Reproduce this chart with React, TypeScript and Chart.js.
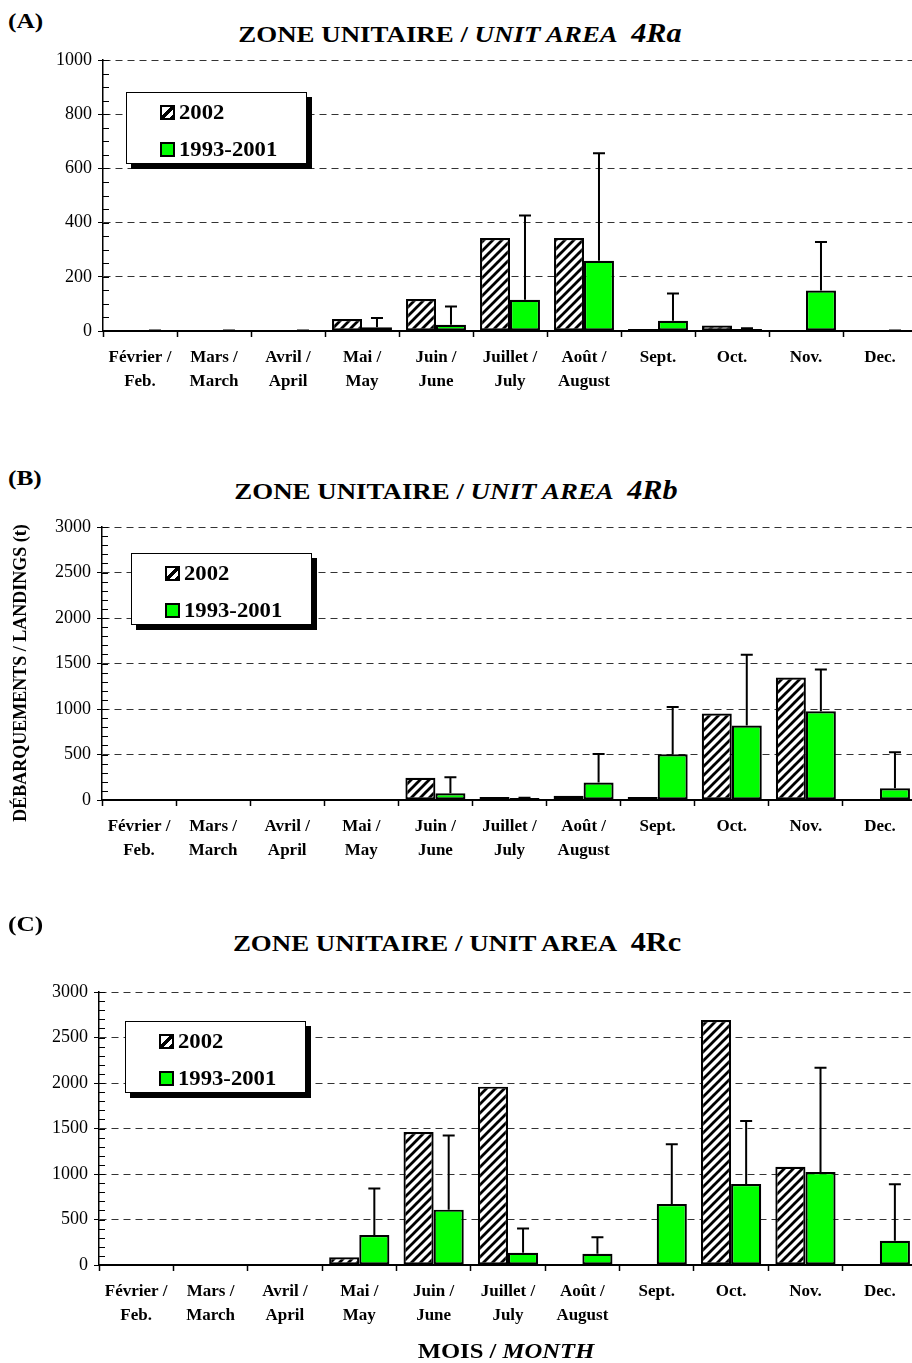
import React, { useEffect, useRef } from "react";
import { Chart, registerables } from "chart.js";
Chart.register(...registerables);

const MONTHS: string[][] = [
  ["Février /", "Feb."],
  ["Mars /", "March"],
  ["Avril /", "April"],
  ["Mai /", "May"],
  ["Juin /", "June"],
  ["Juillet /", "July"],
  ["Août /", "August"],
  ["Sept."],
  ["Oct."],
  ["Nov."],
  ["Dec."],
];
const SERIES_2002 = "2002";
const SERIES_MEAN = "1993-2001";

// Panel A – 4Ra
const A_2002 = [null, null, null, 44, 118, 343, 343, 2, 20, null, null];
const A_MEAN = [null, null, null, 14, 23, 115, 259, 38, 6, 149, null];
const A_SD = [2, 2, 2, 34, 67, 311, 397, 100, 4, 179, 2];

// Panel B – 4Rb
const B_2002 = [null, null, null, null, 245, 33, 48, 33, 950, 1345, null];
const B_MEAN = [null, null, null, null, 73, 10, 191, 502, 818, 975, 128];
const B_SD = [null, null, null, null, 177, 15, 315, 521, 777, 458, 397];

// Panel C – 4Rc
const C_2002 = [null, null, null, 84, 1462, 1960, null, null, 2693, 1080, null];
const C_MEAN = [null, null, null, 330, 608, 135, 124, 670, 890, 1022, 267];
const C_SD = [null, null, null, 512, 816, 267, 180, 656, 693, 1146, 619];

const SERIF = '"Liberation Serif", "Times New Roman", serif';
const GREEN = "#00ff00";
const CANVAS_W = 917;
const CAT_PCT = 0.81;
const X_AXIS_H = 75;

function makeHatch(ctx: CanvasRenderingContext2D) {
  const s = 9;
  const c = document.createElement("canvas");
  c.width = s;
  c.height = s;
  const g = c.getContext("2d")!;
  g.fillStyle = "#fff";
  g.fillRect(0, 0, s, s);
  g.strokeStyle = "#000";
  g.lineWidth = 2.8;
  g.beginPath();
  g.moveTo(-1, s + 1);
  g.lineTo(s + 1, -1);
  g.moveTo(-2, 2);
  g.lineTo(2, -2);
  g.moveTo(s - 2, s + 2);
  g.lineTo(s + 2, s - 2);
  g.stroke();
  return ctx.createPattern(c, "repeat")!;
}

type PanelProps = {
  d2002: (number | null)[];
  mean: (number | null)[];
  sd: (number | null)[];
  yMax: number;
  major: number;
  minor: number;
  plotTop: number;
  plotBottom: number;
  plotLeft: number;
};

function Panel(p: PanelProps) {
  const ref = useRef<HTMLCanvasElement>(null);
  const top = p.plotTop - 20;
  const height = p.plotBottom - top + X_AXIS_H;
  useEffect(() => {
    const canvas = ref.current!;
    const ctx = canvas.getContext("2d")!;
    const hatch = makeHatch(ctx);

    const minorTicks = {
      id: "minorTicks",
      afterDraw(chart: any) {
        const y = chart.scales.y;
        const c = chart.ctx;
        c.save();
        c.strokeStyle = "#000";
        c.lineWidth = 1;
        for (let v = 0; v <= p.yMax; v += p.minor) {
          const py = Math.round(y.getPixelForValue(v)) + 0.5;
          c.beginPath();
          c.moveTo(y.right, py);
          c.lineTo(y.right + 6, py);
          c.stroke();
        }
        c.restore();
      },
    };

    const errorBars = {
      id: "errorBars",
      afterDatasetsDraw(chart: any) {
        const x = chart.scales.x;
        const y = chart.scales.y;
        const c = chart.ctx;
        const catW = x.width / MONTHS.length;
        c.save();
        c.strokeStyle = "#000";
        c.lineWidth = 2;
        p.sd.forEach((s, i) => {
          if (s == null) return;
          const m = p.mean[i] ?? 0;
          const gx = x.getPixelForValue(i) + (catW * CAT_PCT) / 4;
          const y0 = y.getPixelForValue(m);
          const y1 = y.getPixelForValue(m + s);
          c.beginPath();
          c.moveTo(gx, y0);
          c.lineTo(gx, y1);
          c.moveTo(gx - 6, y1);
          c.lineTo(gx + 6, y1);
          c.stroke();
        });
        c.restore();
      },
    };

    const chart = new Chart(canvas, {
      type: "bar",
      data: {
        labels: MONTHS,
        datasets: [
          {
            label: SERIES_2002,
            data: p.d2002,
            backgroundColor: hatch,
            borderColor: "#000",
            borderWidth: 2.2,
            borderSkipped: false,
            categoryPercentage: CAT_PCT,
            barPercentage: 1,
            minBarLength: 2,
          },
          {
            label: SERIES_MEAN,
            data: p.mean,
            backgroundColor: GREEN,
            borderColor: "#000",
            borderWidth: 2.2,
            borderSkipped: false,
            categoryPercentage: CAT_PCT,
            barPercentage: 1,
            minBarLength: 2,
          },
        ],
      } as any,
      options: {
        animation: false,
        responsive: false,
        maintainAspectRatio: false,
        layout: { padding: { top: 20, left: 0, right: 0, bottom: 0 } },
        plugins: {
          legend: { display: false },
          tooltip: { enabled: false },
          title: { display: false },
        },
        scales: {
          x: {
            grid: {
              offset: true,
              drawOnChartArea: false,
              drawTicks: true,
              tickLength: 6,
              tickColor: "#000",
              tickWidth: 1.5,
            },
            border: { color: "#000", width: 2 },
            ticks: {
              color: "#000",
              autoSkip: false,
              maxRotation: 0,
              padding: 9,
              font: { family: SERIF, size: 17, weight: "bold", lineHeight: "24px" },
            },
            afterFit: (s: any) => {
              s.height = X_AXIS_H;
            },
          },
          y: {
            min: 0,
            max: p.yMax,
            grid: {
              color: (c: any) => (c.tick && c.tick.value === 0 ? "rgba(0,0,0,0)" : "#333"),
              lineWidth: 1,
              tickColor: "#000",
              tickLength: 5,
              tickWidth: 1,
            },
            border: { color: "#000", width: 1.5, dash: [7, 5] },
            ticks: {
              stepSize: p.major,
              color: "#000",
              padding: 6,
              font: { family: SERIF, size: 18 },
              callback: (v: any) => String(v),
            },
            afterFit: (s: any) => {
              s.width = p.plotLeft;
            },
          },
        },
      } as any,
      plugins: [minorTicks, errorBars],
    });
    return () => chart.destroy();
  }, []);
  return (
    <canvas
      ref={ref}
      width={CANVAS_W}
      height={height}
      style={{ position: "absolute", left: 0, top, width: CANVAS_W, height }}
    />
  );
}

function Legend({ left, top }: { left: number; top: number }) {
  const row = (icon: React.ReactNode, text: string, cy: number) => (
    <div
      style={{
        position: "absolute",
        left: 33,
        top: cy - 12,
        height: 24,
        display: "flex",
        alignItems: "center",
        whiteSpace: "nowrap",
      }}
    >
      {icon}
      <span style={{ marginLeft: 4, fontFamily: SERIF, fontWeight: "bold", fontSize: 21, transform: "scaleX(1.08)", transformOrigin: "left center", display: "inline-block" }}>{text}</span>
    </div>
  );
  const hatchIcon = (
    <span
      style={{
        display: "inline-block",
        width: 11,
        height: 11,
        border: "2px solid #000",
        background:
          "linear-gradient(135deg, #fff 0 40%, #000 40% 62%, #fff 62% 82%, #000 82%)",
      }}
    />
  );
  const greenIcon = (
    <span
      style={{
        display: "inline-block",
        width: 11,
        height: 11,
        border: "2px solid #000",
        background: GREEN,
      }}
    />
  );
  return (
    <div
      style={{
        position: "absolute",
        left,
        top,
        width: 181,
        height: 72,
        boxSizing: "border-box",
        border: "1px solid #000",
        background: "#fff",
        boxShadow: "5px 5px 0 #000",
      }}
    >
      {row(hatchIcon, SERIES_2002, 19.5)}
      {row(greenIcon, SERIES_MEAN, 56)}
    </div>
  );
}

function Label({ x, y, children, size }: { x: number; y: number; children: React.ReactNode; size: number }) {
  return (
    <div
      style={{
        position: "absolute",
        left: x,
        top: y,
        transform: "translate(-50%, -50%) scaleX(1.12)",
        whiteSpace: "nowrap",
        fontFamily: SERIF,
        fontWeight: "bold",
        fontSize: size,
        lineHeight: 1,
        color: "#000",
      }}
    >
      {children}
    </div>
  );
}

function PanelTag({ y, text }: { y: number; text: string }) {
  return (
    <div
      style={{
        position: "absolute",
        left: 8,
        top: y,
        transform: "translateY(-50%) scaleX(1.15)",
        transformOrigin: "left center",
        fontFamily: SERIF,
        fontWeight: "bold",
        fontSize: 22,
        lineHeight: 1,
      }}
    >
      {text}
    </div>
  );
}

export default function App() {
  return (
    <div
      style={{
        position: "absolute",
        left: 0,
        top: 0,
        width: 912,
        height: 1363,
        overflow: "hidden",
        background: "#fff",
      }}
    >
      <PanelTag y={21} text="(A)" />
      <Label x={460} y={33} size={24}>
        ZONE UNITAIRE / <i>UNIT AREA</i>&nbsp; <i style={{ fontSize: 27 }}>4Ra</i>
      </Label>
      <Panel d2002={A_2002} mean={A_MEAN} sd={A_SD} yMax={1000} major={200} minor={50} plotTop={60} plotBottom={331} plotLeft={103} />
      <Legend left={126} top={92} />

      <PanelTag y={478} text="(B)" />
      <Label x={456} y={490} size={24}>
        ZONE UNITAIRE / <i>UNIT AREA</i>&nbsp; <i style={{ fontSize: 27 }}>4Rb</i>
      </Label>
      <Panel d2002={B_2002} mean={B_MEAN} sd={B_SD} yMax={3000} major={500} minor={100} plotTop={527} plotBottom={800} plotLeft={102} />
      <Legend left={131} top={553} />
      <div
        style={{
          position: "absolute",
          left: 20,
          top: 673,
          transform: "translate(-50%, -50%) rotate(-90deg)",
          whiteSpace: "nowrap",
          fontFamily: SERIF,
          fontWeight: "bold",
          fontSize: 18,
          lineHeight: 1,
        }}
      >
        DÉBARQUEMENTS / LANDINGS (t)
      </div>

      <PanelTag y={924} text="(C)" />
      <Label x={457} y={942} size={24}>
        ZONE UNITAIRE / UNIT AREA&nbsp; <span style={{ fontSize: 27 }}>4Rc</span>
      </Label>
      <Panel d2002={C_2002} mean={C_MEAN} sd={C_SD} yMax={3000} major={500} minor={100} plotTop={992} plotBottom={1265} plotLeft={99} />
      <Legend left={125} top={1021} />

      <Label x={506} y={1351} size={22}>
        MOIS / <i>MONTH</i>
      </Label>
    </div>
  );
}
